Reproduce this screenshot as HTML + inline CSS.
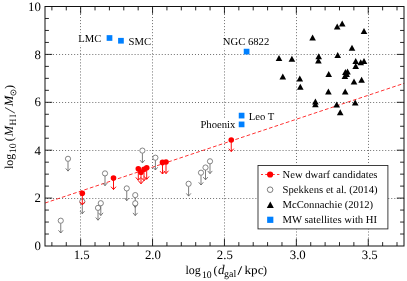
<!DOCTYPE html><html><head><meta charset="utf-8"><style>html,body{margin:0;padding:0;background:#fff;}svg{display:block;will-change:transform;}text{font-family:"Liberation Serif",serif;fill:#000;text-rendering:geometricPrecision;}</style></head><body>
<svg width="407" height="281" viewBox="0 0 407 281">
<rect width="407" height="281" fill="#fff"/>
<path d="M80.50 8V246.00M152.50 8V246.00M224.50 8V246.00M296.50 8V246.00M368.50 8V246.00" stroke="#6e6e6e" stroke-width="1" stroke-dasharray="1 2.02" fill="none"/>
<path d="M47 198.50H404.20M47 150.50H404.20M47 102.50H404.20M47 54.50H404.20" stroke="#6e6e6e" stroke-width="1" stroke-dasharray="1 2.02" fill="none"/>
<rect x="78.0" y="32.7" width="23.6" height="12.6" fill="#fff"/>
<rect x="128.4" y="35.7" width="23.2" height="12.6" fill="#fff"/>
<rect x="222.6" y="35.7" width="47.0" height="12.6" fill="#fff"/>
<rect x="248.6" y="110.2" width="25.8" height="12.6" fill="#fff"/>
<rect x="200.2" y="118.2" width="34.8" height="12.6" fill="#fff"/>
<path d="M45.1 203.0L404.2 83.3" stroke="#ff0000" stroke-width="0.8" stroke-dasharray="3.7 2.2" stroke-dashoffset="0" fill="none"/>
<path d="M60.75 223.30V233.00M58.45 230.30L60.75 233.00L63.05 230.30" stroke="#666" stroke-width="0.85" fill="none"/>
<circle cx="60.75" cy="220.70" r="2.6" fill="#fff" stroke="#666" stroke-width="0.8"/>
<path d="M82.30 204.10V213.80M80.00 211.10L82.30 213.80L84.60 211.10" stroke="#666" stroke-width="0.85" fill="none"/>
<circle cx="82.30" cy="201.50" r="2.6" fill="#fff" stroke="#666" stroke-width="0.8"/>
<path d="M98.00 210.50V220.20M95.70 217.50L98.00 220.20L100.30 217.50" stroke="#666" stroke-width="0.85" fill="none"/>
<circle cx="98.00" cy="207.90" r="2.6" fill="#fff" stroke="#666" stroke-width="0.8"/>
<path d="M100.80 205.80V215.50M98.50 212.80L100.80 215.50L103.10 212.80" stroke="#666" stroke-width="0.85" fill="none"/>
<circle cx="100.80" cy="203.20" r="2.6" fill="#fff" stroke="#666" stroke-width="0.8"/>
<path d="M126.75 191.00V200.70M124.45 198.00L126.75 200.70L129.05 198.00" stroke="#666" stroke-width="0.85" fill="none"/>
<circle cx="126.75" cy="188.40" r="2.6" fill="#fff" stroke="#666" stroke-width="0.8"/>
<path d="M135.25 197.70V207.40M132.95 204.70L135.25 207.40L137.55 204.70" stroke="#666" stroke-width="0.85" fill="none"/>
<circle cx="135.25" cy="195.10" r="2.6" fill="#fff" stroke="#666" stroke-width="0.8"/>
<path d="M135.25 205.90V215.60M132.95 212.90L135.25 215.60L137.55 212.90" stroke="#666" stroke-width="0.85" fill="none"/>
<circle cx="135.25" cy="203.30" r="2.6" fill="#fff" stroke="#666" stroke-width="0.8"/>
<path d="M68.00 161.40V171.10M65.70 168.40L68.00 171.10L70.30 168.40" stroke="#666" stroke-width="0.85" fill="none"/>
<circle cx="68.00" cy="158.80" r="2.6" fill="#fff" stroke="#666" stroke-width="0.8"/>
<path d="M105.00 176.00V185.70M102.70 183.00L105.00 185.70L107.30 183.00" stroke="#666" stroke-width="0.85" fill="none"/>
<circle cx="105.00" cy="173.40" r="2.6" fill="#fff" stroke="#666" stroke-width="0.8"/>
<path d="M142.40 153.20V162.90M140.10 160.20L142.40 162.90L144.70 160.20" stroke="#666" stroke-width="0.85" fill="none"/>
<circle cx="142.40" cy="150.60" r="2.6" fill="#fff" stroke="#666" stroke-width="0.8"/>
<path d="M155.40 160.30V170.00M153.10 167.30L155.40 170.00L157.70 167.30" stroke="#666" stroke-width="0.85" fill="none"/>
<circle cx="155.40" cy="157.70" r="2.6" fill="#fff" stroke="#666" stroke-width="0.8"/>
<path d="M188.60 186.40V196.10M186.30 193.40L188.60 196.10L190.90 193.40" stroke="#666" stroke-width="0.85" fill="none"/>
<circle cx="188.60" cy="183.80" r="2.6" fill="#fff" stroke="#666" stroke-width="0.8"/>
<path d="M201.00 175.30V185.00M198.70 182.30L201.00 185.00L203.30 182.30" stroke="#666" stroke-width="0.85" fill="none"/>
<circle cx="201.00" cy="172.70" r="2.6" fill="#fff" stroke="#666" stroke-width="0.8"/>
<path d="M205.50 170.10V179.80M203.20 177.10L205.50 179.80L207.80 177.10" stroke="#666" stroke-width="0.85" fill="none"/>
<circle cx="205.50" cy="167.50" r="2.6" fill="#fff" stroke="#666" stroke-width="0.8"/>
<path d="M210.00 163.90V173.60M207.70 170.90L210.00 173.60L212.30 170.90" stroke="#666" stroke-width="0.85" fill="none"/>
<circle cx="210.00" cy="161.30" r="2.6" fill="#fff" stroke="#666" stroke-width="0.8"/>
<path d="M82.30 193.20V204.80M79.80 201.90L82.30 204.80L84.80 201.90" stroke="#ff0000" stroke-width="0.95" fill="none"/>
<path d="M113.50 178.00V189.60M111.00 186.70L113.50 189.60L116.00 186.70" stroke="#ff0000" stroke-width="0.95" fill="none"/>
<path d="M138.30 168.70V180.30M135.80 177.40L138.30 180.30L140.80 177.40" stroke="#ff0000" stroke-width="0.95" fill="none"/>
<path d="M141.00 172.20V183.80M138.50 180.90L141.00 183.80L143.50 180.90" stroke="#ff0000" stroke-width="0.95" fill="none"/>
<path d="M144.00 169.20V180.80M141.50 177.90L144.00 180.80L146.50 177.90" stroke="#ff0000" stroke-width="0.95" fill="none"/>
<path d="M146.70 167.70V179.30M144.20 176.40L146.70 179.30L149.20 176.40" stroke="#ff0000" stroke-width="0.95" fill="none"/>
<path d="M162.50 162.40V174.00M160.00 171.10L162.50 174.00L165.00 171.10" stroke="#ff0000" stroke-width="0.95" fill="none"/>
<path d="M166.00 162.00V173.60M163.50 170.70L166.00 173.60L168.50 170.70" stroke="#ff0000" stroke-width="0.95" fill="none"/>
<path d="M231.25 140.00V151.60M228.75 148.70L231.25 151.60L233.75 148.70" stroke="#ff0000" stroke-width="0.95" fill="none"/>
<circle cx="82.30" cy="193.20" r="2.8" fill="#ff0000"/>
<circle cx="113.50" cy="178.00" r="2.8" fill="#ff0000"/>
<circle cx="138.30" cy="168.70" r="2.8" fill="#ff0000"/>
<circle cx="141.00" cy="172.20" r="2.8" fill="#ff0000"/>
<circle cx="144.00" cy="169.20" r="2.8" fill="#ff0000"/>
<circle cx="146.70" cy="167.70" r="2.8" fill="#ff0000"/>
<circle cx="162.50" cy="162.40" r="2.8" fill="#ff0000"/>
<circle cx="166.00" cy="162.00" r="2.8" fill="#ff0000"/>
<circle cx="231.25" cy="140.00" r="2.8" fill="#ff0000"/>
<path d="M312.60 34.60L315.90 40.60H309.30Z" fill="#000"/>
<path d="M337.20 23.60L340.50 29.60H333.90Z" fill="#000"/>
<path d="M342.20 20.40L345.50 26.40H338.90Z" fill="#000"/>
<path d="M364.00 27.90L367.30 33.90H360.70Z" fill="#000"/>
<path d="M352.00 44.70L355.30 50.70H348.70Z" fill="#000"/>
<path d="M279.00 55.10L282.30 61.10H275.70Z" fill="#000"/>
<path d="M291.90 55.70L295.20 61.70H288.60Z" fill="#000"/>
<path d="M318.70 53.30L322.00 59.30H315.40Z" fill="#000"/>
<path d="M318.40 57.50L321.70 63.50H315.10Z" fill="#000"/>
<path d="M337.70 52.10L341.00 58.10H334.40Z" fill="#000"/>
<path d="M355.70 58.00L359.00 64.00H352.40Z" fill="#000"/>
<path d="M355.70 63.00L359.00 69.00H352.40Z" fill="#000"/>
<path d="M360.70 59.20L364.00 65.20H357.40Z" fill="#000"/>
<path d="M364.00 58.00L367.30 64.00H360.70Z" fill="#000"/>
<path d="M328.70 71.00L332.00 77.00H325.40Z" fill="#000"/>
<path d="M345.40 69.00L348.70 75.00H342.10Z" fill="#000"/>
<path d="M347.50 68.50L350.80 74.50H344.20Z" fill="#000"/>
<path d="M346.60 70.90L349.90 76.90H343.30Z" fill="#000"/>
<path d="M344.90 73.10L348.20 79.10H341.60Z" fill="#000"/>
<path d="M282.80 73.60L286.10 79.60H279.50Z" fill="#000"/>
<path d="M299.80 75.60L303.10 81.60H296.50Z" fill="#000"/>
<path d="M361.60 76.80L364.90 82.80H358.30Z" fill="#000"/>
<path d="M300.30 83.80L303.60 89.80H297.00Z" fill="#000"/>
<path d="M354.00 78.60L357.30 84.60H350.70Z" fill="#000"/>
<path d="M328.40 88.40L331.70 94.40H325.10Z" fill="#000"/>
<path d="M345.20 88.60L348.50 94.60H341.90Z" fill="#000"/>
<path d="M315.40 98.40L318.70 104.40H312.10Z" fill="#000"/>
<path d="M315.40 101.20L318.70 107.20H312.10Z" fill="#000"/>
<path d="M336.70 101.60L340.00 107.60H333.40Z" fill="#000"/>
<path d="M355.20 99.60L358.50 105.60H351.90Z" fill="#000"/>
<path d="M340.20 109.20L343.50 115.20H336.90Z" fill="#000"/>
<rect x="106.65" y="35.15" width="5.7" height="5.7" fill="#0080ff"/>
<rect x="118.10" y="37.90" width="5.7" height="5.7" fill="#0080ff"/>
<rect x="243.75" y="48.75" width="5.7" height="5.7" fill="#0080ff"/>
<rect x="238.75" y="112.75" width="5.7" height="5.7" fill="#0080ff"/>
<rect x="238.75" y="121.55" width="5.7" height="5.7" fill="#0080ff"/>
<rect x="45.00" y="6.50" width="359.00" height="239.50" fill="none" stroke="#111" stroke-width="1"/>
<path d="M51.89 246.00v-3.9M51.89 6.50v3.9M66.27 246.00v-3.9M66.27 6.50v3.9M80.65 246.00v-7.2M80.65 6.50v7.2M95.03 246.00v-3.9M95.03 6.50v3.9M109.41 246.00v-3.9M109.41 6.50v3.9M123.79 246.00v-3.9M123.79 6.50v3.9M138.17 246.00v-3.9M138.17 6.50v3.9M152.55 246.00v-7.2M152.55 6.50v7.2M166.93 246.00v-3.9M166.93 6.50v3.9M181.31 246.00v-3.9M181.31 6.50v3.9M195.69 246.00v-3.9M195.69 6.50v3.9M210.07 246.00v-3.9M210.07 6.50v3.9M224.45 246.00v-7.2M224.45 6.50v7.2M238.83 246.00v-3.9M238.83 6.50v3.9M253.21 246.00v-3.9M253.21 6.50v3.9M267.59 246.00v-3.9M267.59 6.50v3.9M281.97 246.00v-3.9M281.97 6.50v3.9M296.35 246.00v-7.2M296.35 6.50v7.2M310.73 246.00v-3.9M310.73 6.50v3.9M325.11 246.00v-3.9M325.11 6.50v3.9M339.49 246.00v-3.9M339.49 6.50v3.9M353.87 246.00v-3.9M353.87 6.50v3.9M368.25 246.00v-7.2M368.25 6.50v7.2M382.63 246.00v-3.9M382.63 6.50v3.9M397.01 246.00v-3.9M397.01 6.50v3.9M45.00 234.03h3.9M404.00 234.03h-3.9M45.00 222.05h3.9M404.00 222.05h-3.9M45.00 210.07h3.9M404.00 210.07h-3.9M45.00 198.10h7.2M404.00 198.10h-7.2M45.00 186.12h3.9M404.00 186.12h-3.9M45.00 174.15h3.9M404.00 174.15h-3.9M45.00 162.18h3.9M404.00 162.18h-3.9M45.00 150.20h7.2M404.00 150.20h-7.2M45.00 138.22h3.9M404.00 138.22h-3.9M45.00 126.25h3.9M404.00 126.25h-3.9M45.00 114.28h3.9M404.00 114.28h-3.9M45.00 102.30h7.2M404.00 102.30h-7.2M45.00 90.32h3.9M404.00 90.32h-3.9M45.00 78.35h3.9M404.00 78.35h-3.9M45.00 66.38h3.9M404.00 66.38h-3.9M45.00 54.40h7.2M404.00 54.40h-7.2M45.00 42.43h3.9M404.00 42.43h-3.9M45.00 30.45h3.9M404.00 30.45h-3.9M45.00 18.47h3.9M404.00 18.47h-3.9" stroke="#111" stroke-width="0.9" fill="none"/>
<text x="81.65" y="258.8" font-size="12.8" text-anchor="middle">1.5</text>
<text x="152.95" y="258.8" font-size="12.8" text-anchor="middle">2.0</text>
<text x="224.85" y="258.8" font-size="12.8" text-anchor="middle">2.5</text>
<text x="297.75" y="258.8" font-size="12.8" text-anchor="middle">3.0</text>
<text x="369.75" y="258.8" font-size="12.8" text-anchor="middle">3.5</text>
<text x="40.9" y="250.15" font-size="12.8" text-anchor="end">0</text>
<text x="40.9" y="202.25" font-size="12.8" text-anchor="end">2</text>
<text x="40.9" y="154.90" font-size="12.8" text-anchor="end">4</text>
<text x="40.9" y="106.45" font-size="12.8" text-anchor="end">6</text>
<text x="40.9" y="58.55" font-size="12.8" text-anchor="end">8</text>
<text x="40.9" y="11.10" font-size="12.8" text-anchor="end">10</text>
<g transform="translate(0,274.2)"><text x="185.5" y="0" font-size="12">log</text><text x="201.9" y="3.4" font-size="10" textLength="9.7" lengthAdjust="spacingAndGlyphs">10</text><text x="213.4" y="0" font-size="12">(</text><text x="217.9" y="0" font-size="13.2" font-style="italic">d</text><text x="224.0" y="3.2" font-size="10">gal</text><text x="244.5" y="0" font-size="12" textLength="19.1" lengthAdjust="spacingAndGlyphs">kpc</text><text x="263.1" y="0" font-size="12">)</text><path d="M238.0 0.7L241.7 -7.9" stroke="#000" stroke-width="1" fill="none"/></g>
<g transform="translate(12.6,169.0) rotate(-90)"><text x="0" y="0" font-size="12">log</text><text x="15.7" y="3.1" font-size="10">10</text><text x="27.7" y="0" font-size="12">(</text><text x="32.8" y="0" font-size="12.5" font-style="italic">M</text><text x="43.6" y="3.0" font-size="9.5">H</text><text x="51.4" y="3.0" font-size="9.5">I</text><text x="62.8" y="0" font-size="12.6" font-style="italic">M</text><text x="80.0" y="0" font-size="12">)</text><path d="M55.9 2.3L61.5 -7.6" stroke="#000" stroke-width="0.75" fill="none"/><circle cx="76.4" cy="0.8" r="2.6" fill="none" stroke="#000" stroke-width="0.7"/><circle cx="76.4" cy="0.8" r="0.7" fill="#000"/></g>
<text x="78.2" y="42" font-size="10.67">LMC</text>
<text x="128.6" y="45" font-size="10.67">SMC</text>
<text x="222.8" y="45" font-size="10.67">NGC 6822</text>
<text x="248.8" y="119.5" font-size="10.67">Leo T</text>
<text x="200.4" y="127.5" font-size="10.67">Phoenix</text>
<rect x="258.0" y="165.5" width="129.9" height="63.4" fill="#fff" stroke="#2a2a2a" stroke-width="0.9"/>
<path d="M261 174.5H279.4" stroke="#ff0000" stroke-width="0.8" stroke-dasharray="3.7 2.2" stroke-dashoffset="1.7" fill="none"/>
<circle cx="270.1" cy="174.5" r="3.1" fill="#ff0000"/>
<circle cx="270.1" cy="189.7" r="2.8" fill="#fff" stroke="#666" stroke-width="0.85"/>
<path d="M270.3 201.5L273.8 207.9H266.8Z" fill="#000"/>
<rect x="267.15" y="216.7" width="6.2" height="6.2" fill="#0080ff"/>
<text x="282.5" y="178.30" font-size="10.63">New dwarf candidates</text>
<text x="282.5" y="193.30" font-size="10.63">Spekkens et al. (2014)</text>
<text x="282.5" y="208.30" font-size="10.63">McConnachie (2012)</text>
<text x="282.5" y="223.30" font-size="10.63">MW satellites with HI</text>
</svg></body></html>
